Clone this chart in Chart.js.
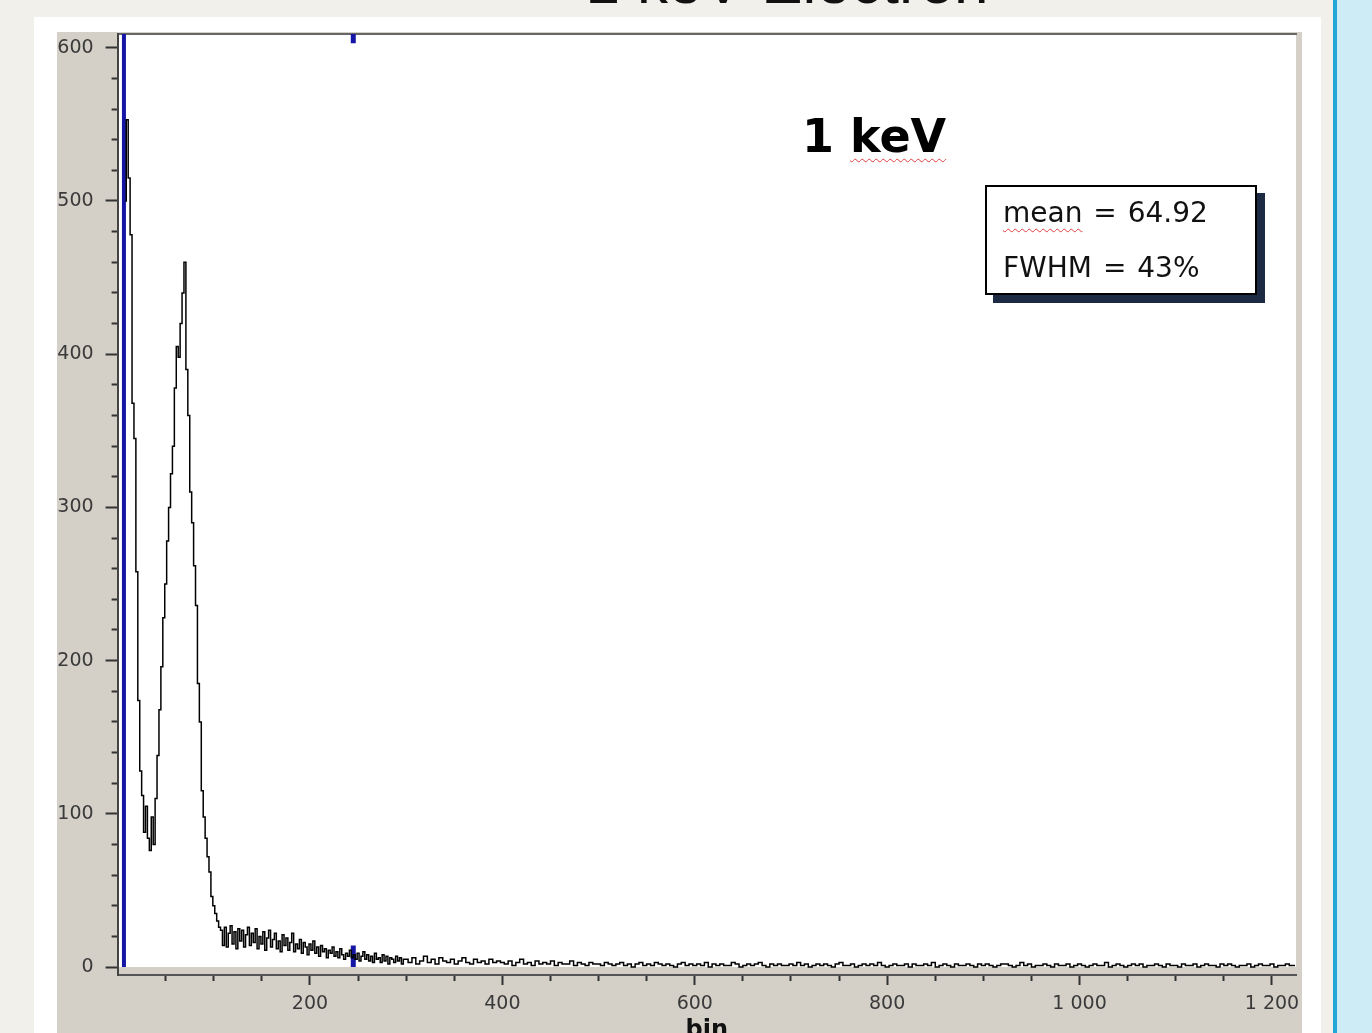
<!DOCTYPE html>
<html><head><meta charset="utf-8">
<script src="https://cdn.jsdelivr.net/npm/chart.js@4"></script>
<style>
html,body{margin:0;padding:0;width:1372px;height:1033px;overflow:hidden;background:#f2f0ea;}
#panel{position:absolute;left:34px;top:17px;width:1287px;height:1016px;background:#fff;}
#bar{position:absolute;left:1333px;top:0;width:4px;height:1033px;background:#22a6d6;}
#side{position:absolute;left:1337px;top:0;width:35px;height:1033px;background:#cdecf6;}
#title{position:absolute;left:787px;top:-49px;transform:translateX(-50%);font:62px/62px "Liberation Sans",Arial,sans-serif;color:#111;white-space:nowrap;}
#chart{position:absolute;left:57px;top:32px;}
#kev{position:absolute;left:802px;top:113px;font:bold 46px/46px "DejaVu Sans",sans-serif;color:#000;white-space:nowrap;}
.wavy{text-decoration:underline wavy #e04040;text-decoration-thickness:1px;text-underline-offset:6px;}
#stats{position:absolute;left:985px;top:185px;width:268px;height:106px;border:2px solid #000;background:#fff;box-shadow:8px 8px 0 #1d2a44;}
#stats div{position:absolute;left:16px;font:28px/28px "DejaVu Sans",sans-serif;color:#111;white-space:nowrap;word-spacing:2px;}
</style></head>
<body>
<div id="panel"></div>
<div id="bar"></div><div id="side"></div>
<div id="title">1 keV Electron</div>
<canvas id="chart" width="1245" height="1020"></canvas>
<div id="kev">1 <span class="wavy">keV</span></div>
<div id="stats"><div style="top:12px"><span class="wavy">mean</span> = 64.92</div><div style="top:67px">FWHM = 43%</div></div>
<script>
// Histogram counts, bins 8..298 (width 2)
const peakStart = 8, peakStep = 2;
const peakCounts = [
 500,553,515,478,368,345,258,174,128,112,
 88,105,84,76,98,80,110,138,168,196,
 228,250,278,300,322,340,378,405,398,420,
 440,460,390,360,310,290,262,236,185,160,
 115,98,84,72,62,46,40,35,30,26,
 24,14,26,13,22,27,15,23,12,25,
 17,24,13,21,26,14,22,16,25,12,
 20,15,23,11,19,24,13,18,22,12,
 17,10,21,14,19,11,16,22,10,15,
 12,18,9,16,13,8,15,11,17,9,
 13,7,14,10,12,6,11,9,13,7,
 10,6,12,8,5,9,7,11,6,8,
 5,9,4,7,10,5,8,4,7,3,
 9,5,6,3,8,4,7,2,6,5,
 3,7,4,6,2,5
];
// Tail counts, bins 300..1224 (width 4)
const tailStart = 300, tailStep = 4;
const tailCounts = [
 5,3,6,2,4,7,3,5,2,6,4,3,5,2,4,6,3,2,5,3,4,2,5,3,4,
 3,2,4,1,3,5,2,3,1,4,2,3,2,4,1,3,2,2,4,1,3,2,1,3,2,
 2,1,3,2,1,2,3,1,2,0,2,3,1,2,1,3,2,1,2,1,0,2,3,1,2,
 1,2,1,3,0,2,1,2,1,1,3,2,0,1,2,1,2,3,1,0,2,1,2,1,1,
 2,1,3,1,2,0,1,2,1,2,1,0,2,3,1,1,2,0,1,2,1,2,1,3,1,
 0,1,2,1,1,2,0,2,1,1,2,1,3,0,1,2,1,0,2,1,1,2,1,0,2,
 1,2,1,0,1,2,2,1,0,1,3,1,2,0,1,1,2,1,0,2,1,1,2,0,1,
 2,1,0,1,2,1,1,3,0,1,2,1,0,1,2,1,2,0,1,1,2,1,0,2,1,
 1,0,2,1,1,2,0,1,2,1,1,0,2,1,2,1,0,1,1,2,0,1,2,1,1,
 2,0,1,1,2,1,1
];
// Cursor markers (bin positions)
const cursorMain = 6.6;
const cursorSecond = 245;
const yTickValues = [0,20,40,60,80,100,120,140,160,180,200,220,240,260,280,300,320,340,360,380,400,420,440,460,480,500,520,540,560,580,600];
const xTickValues = [50,100,150,200,250,300,350,400,450,500,550,600,650,700,750,800,850,900,950,1000,1050,1100,1150,1200];
const xLabelValues = [200,400,600,800,1000,1200];

const histData = [];
peakCounts.forEach((v,i)=>histData.push({x:peakStart+i*peakStep, y:v}));
tailCounts.forEach((v,i)=>histData.push({x:tailStart+i*tailStep, y:v}));

const bgPlugin = {
  id:'bg',
  beforeDraw(chart){
    const {ctx, chartArea:a, scales:{y}} = chart;
    ctx.save();
    ctx.fillStyle = '#d4d0c8';
    ctx.fillRect(0,0,chart.width,chart.height);
    ctx.fillStyle = '#ffffff';
    ctx.fillRect(a.left, a.top, a.right-a.left, y.getPixelForValue(0)-a.top);
    ctx.restore();
  }
};
function noPad(s){ s.paddingTop=0; s.paddingBottom=0; s.paddingLeft=0; s.paddingRight=0; }

new Chart(document.getElementById('chart'), {
  type:'line',
  data:{datasets:[
    {data:histData, borderColor:'#000', borderWidth:1.5, pointRadius:0, stepped:'middle', xAxisID:'x', yAxisID:'y'},
    {data:[{x:cursorMain,y:0},{x:cursorMain,y:609}], borderColor:'#1616a6', borderWidth:4, pointRadius:0, xAxisID:'x', yAxisID:'y'},
    {data:[{x:cursorSecond,y:0},{x:cursorSecond,y:14},{x:cursorSecond,y:null},{x:cursorSecond,y:603},{x:cursorSecond,y:609}], borderColor:'#1616a6', borderWidth:5, pointRadius:0, spanGaps:false, xAxisID:'x', yAxisID:'y'}
  ]},
  options:{
    responsive:false, animation:false, devicePixelRatio:1,
    layout:{padding:{left:0,top:2,right:6,bottom:6.6}},
    plugins:{legend:{display:false}, tooltip:{enabled:false}},
    scales:{
      x:{type:'linear', position:'bottom', min:0, max:1225,
        afterBuildTicks(s){ s.ticks = xTickValues.map(v=>({value:v})); },
        afterFit(s){ s.height = 70.4; noPad(s); },
        ticks:{autoSkip:false, maxRotation:0, padding:8, color:'#3a3a3a', font:{family:'DejaVu Sans', size:19},
          callback(v){ return xLabelValues.includes(v) ? (v>=1000 ? Math.floor(v/1000)+' '+String(v%1000).padStart(3,'0') : String(v)) : ''; }},
        grid:{drawOnChartArea:false, drawTicks:true, tickLength:10, tickWidth:2, tickColor:'#333',
          tickBorderDash(ctx){ return xLabelValues.includes(ctx.tick && ctx.tick.value) ? [] : [5,100]; }},
        border:{display:true, color:'#555', width:2},
        title:{display:true, text:'bin', color:'#111', padding:0, font:{family:'DejaVu Sans', size:24, weight:'bold', lineHeight:1.2}}
      },
      xTop:{type:'linear', position:'top', min:0, max:1225,
        afterFit(s){ s.height = 0; noPad(s); },
        ticks:{display:false}, grid:{display:false, drawTicks:false},
        border:{display:true, color:'#666', width:2}
      },
      y:{type:'linear', position:'left', min:-5.2, max:609,
        afterBuildTicks(s){ s.ticks = yTickValues.map(v=>({value:v})); },
        afterFit(s){ s.width = 60.6; noPad(s); },
        ticks:{autoSkip:false, padding:12, color:'#3a3a3a', font:{family:'DejaVu Sans', size:19},
          callback(v){ return v % 100 === 0 ? String(v) : ''; }},
        grid:{drawOnChartArea:false, drawTicks:true, tickLength:12, tickWidth:2, tickColor:'#333',
          tickBorderDash(ctx){ return (ctx.tick && ctx.tick.value % 100 === 0) ? [] : [6,6]; },
          tickBorderDashOffset(ctx){ return (ctx.tick && ctx.tick.value % 100 === 0) ? 0 : 6; }},
        border:{display:true, color:'#444', width:2}
      }
    }
  },
  plugins:[bgPlugin]
});
</script>
</body></html>
